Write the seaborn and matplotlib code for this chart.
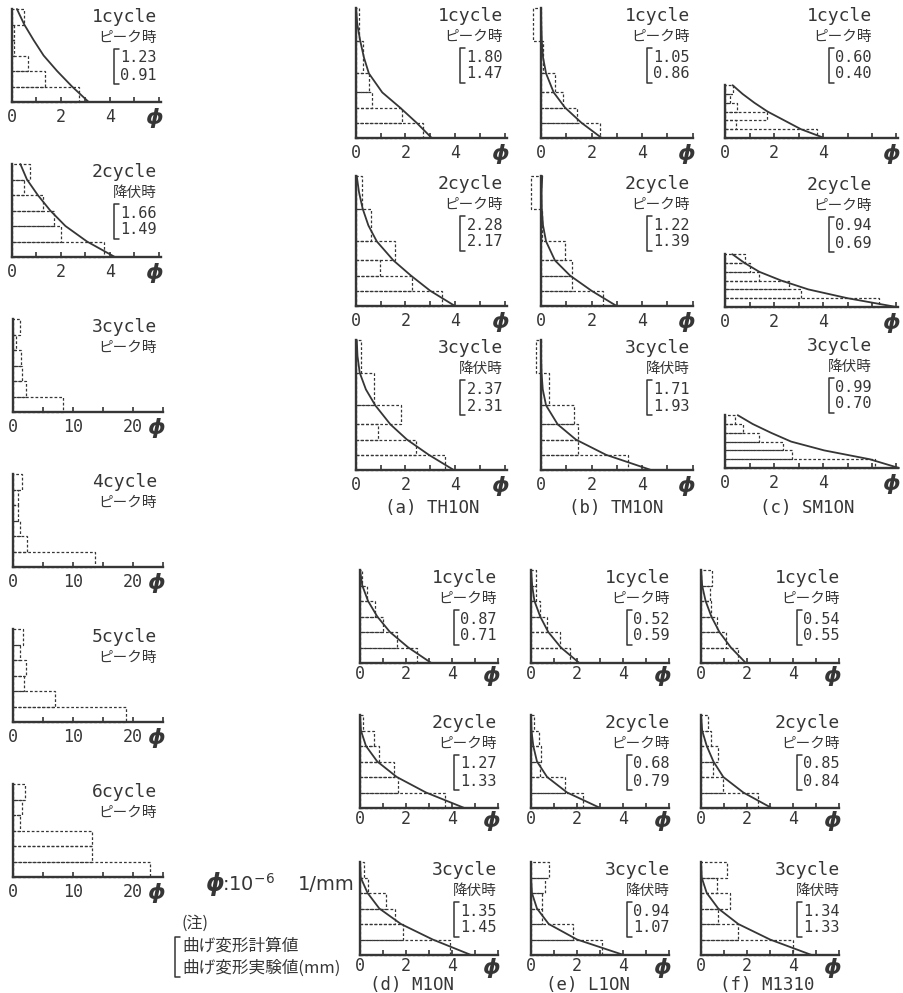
import numpy as np
import matplotlib
matplotlib.use('Agg')
import matplotlib.pyplot as plt
import seaborn as sns

W, H = 904, 993

# ---------------- data ----------------
left_cycles = ['1cycle', '2cycle', '3cycle', '4cycle', '5cycle', '6cycle']
left_states = ['ピーク時', '降伏時', 'ピーク時', 'ピーク時', 'ピーク時', 'ピーク時']
left_values = [('1.23', '0.91'), ('1.66', '1.49'), None, None, None, None]
left_bars = [
    [2.75, 1.36, 0.64, 0.10, 0.10, 0.48],
    [3.74, 2.01, 1.70, 1.27, 0.50, 0.72],
    [8.4, 2.2, 1.55, 1.4, 0.5, 1.2],
    [13.7, 2.3, 1.2, 0.9, 0.9, 1.5],
    [18.9, 7.0, 1.8, 2.1, 1.1, 1.7],
    [22.8, 13.2, 13.2, 1.2, 1.5, 2.0],
]
left_curves = [
    [3.13, 2.45, 1.84, 1.29, 0.88, 0.50, 0.20],
    [4.20, 3.06, 2.18, 1.56, 1.05, 0.61, 0.34],
    None, None, None, None,
]

grid_cycles = ['1cycle', '2cycle', '3cycle']
grid_states = ['ピーク時', 'ピーク時', '降伏時']
specimens = ['(a) TH1ON', '(b) TM1ON', '(c) SM1ON', '(d) M1ON', '(e) L1ON', '(f) M1310']

a_values = [('1.80', '1.47'), ('2.28', '2.17'), ('2.37', '2.31')]
b_values = [('1.05', '0.86'), ('1.22', '1.39'), ('1.71', '1.93')]
c_values = [('0.60', '0.40'), ('0.94', '0.69'), ('0.99', '0.70')]
d_values = [('0.87', '0.71'), ('1.27', '1.33'), ('1.35', '1.45')]
e_values = [('0.52', '0.59'), ('0.68', '0.79'), ('0.94', '1.07')]
f_values = [('0.54', '0.55'), ('0.85', '0.84'), ('1.34', '1.33')]

a_bars = [[2.72, 1.85, 0.66, 0.54, 0.27, 0.13],
          [3.46, 2.25, 0.97, 1.58, 0.60, 0.23],
          [3.58, 2.42, 0.89, 1.82, 0.74, 0.22]]
b_bars = [[2.33, 1.42, 0.87, 0.55, 0.08, -0.30],
          [2.46, 1.24, 1.24, 0.95, 0.05, -0.41],
          [3.43, 1.45, 1.45, 1.32, 0.33, -0.20]]
c_bars = [[3.75, 0.45, 1.70, 0.49, 0.22, 0.34],
          [6.30, 3.10, 2.60, 1.40, 1.00, 0.80],
          [6.14, 2.73, 2.35, 1.40, 0.72, 0.40]]
d_bars = [[2.50, 1.60, 1.00, 0.65, 0.30, 0.10],
          [3.71, 1.64, 1.49, 0.81, 0.59, 0.14],
          [3.93, 1.86, 1.54, 1.13, 0.33, 0.19]]
e_bars = [[1.70, 1.26, 0.70, 0.40, 0.20, 0.20],
          [2.26, 1.46, 0.41, 0.45, 0.33, 0.14],
          [3.09, 1.83, 0.48, 0.48, 0.62, 0.80]]
f_bars = [[1.60, 1.10, 0.70, 0.45, 0.40, 0.50],
          [2.46, 0.94, 0.51, 0.75, 0.42, 0.32],
          [3.99, 1.59, 0.75, 1.26, 0.68, 1.12]]

# calculated curves, x read at the heights in curve_h_* below
a_curves = [[3.06, 2.45, 1.78, 1.06, 0.52, 0.32, 0.17, 0.05, 0.00],
            [4.00, 3.00, 2.22, 1.51, 0.84, 0.50, 0.27, 0.12, 0.03],
            [3.95, 2.94, 2.06, 1.39, 0.78, 0.40, 0.15, 0.06, 0.03]]
b_curves = [[2.40, 1.60, 0.95, 0.50, 0.20, 0.08, 0.03, 0.01, 0.00],
            [2.99, 2.00, 1.15, 0.55, 0.20, 0.08, 0.03, 0.02, 0.05],
            [4.35, 2.57, 1.38, 0.66, 0.20, 0.07, 0.02, 0.00, 0.00]]
c_curves = [[4.05, 3.10, 2.42, 1.74, 1.20, 0.72, 0.31],
            [7.00, 5.00, 3.40, 2.30, 1.40, 0.80, 0.30],
            [7.10, 5.90, 4.05, 2.70, 1.88, 1.13, 0.52]]
d_curves = [[3.10, 2.10, 1.30, 0.75, 0.35, 0.10, 0.00],
            [4.54, 2.87, 1.60, 0.75, 0.26, 0.04, 0.00],
            [4.83, 3.16, 1.78, 0.84, 0.33, 0.03, 0.00]]
e_curves = [[2.10, 1.30, 0.75, 0.40, 0.15, 0.05, 0.00],
            [3.01, 1.57, 0.70, 0.26, 0.10, 0.02, 0.00],
            [4.03, 2.00, 0.77, 0.26, 0.04, 0.00, 0.00]]
f_curves = [[1.95, 1.30, 0.80, 0.45, 0.20, 0.05, 0.00],
            [3.07, 1.84, 0.97, 0.54, 0.25, 0.05, 0.00],
            [4.81, 3.00, 1.62, 0.75, 0.25, 0.03, 0.00]]

# section boundaries along the member height
edges_even = [0, 1, 2, 3, 4, 5, 6]
edges_ab = [0, 1, 2, 3, 4.25, 6.4, 8.55]
curve_h_even = [0, 1, 2, 3, 4, 5, 6]
curve_h_ab = [0, 1, 2, 3, 4.25, 5.3, 6.4, 7.5, 8.55]

# ---------------- style ----------------
sns.set_style('white')
plt.rcParams['font.family'] = ['DejaVu Sans Mono', 'Noto Sans CJK JP']
plt.rcParams['mathtext.fontset'] = 'dejavusans'
INK = '#363636'
MONO = ['DejaVu Sans Mono', 'Noto Sans CJK JP']
CJK = ['Noto Sans CJK JP', 'DejaVu Sans']

fig = plt.figure(figsize=(W / 100, H / 100), dpi=100)
fig.patch.set_facecolor('white')


def fx(x):
    return x / W


def fy(y):
    return 1 - y / H


def fline(xs, ys, lw=1.1):
    fig.add_artist(plt.Line2D([fx(v) for v in xs], [fy(v) for v in ys],
                              transform=fig.transFigure, color=INK, lw=lw))


def panel(x0, base, scale, xmax, edges, hunit, widths, curve, curve_h, step,
          labels, pad=4, phi_dy=16):
    height = edges[-1] * hunit
    ax = fig.add_axes([fx(x0), fy(base), scale * xmax / W, height / H])
    ax.set_xlim(0, xmax)
    ax.set_ylim(0, edges[-1])
    ax.barh(edges[:-1], widths, height=np.diff(edges), left=0, align='edge',
            fill=False, edgecolor=INK, linestyle=(0, (2.2, 1.6)),
            linewidth=0.9, clip_on=False)
    if curve is not None:
        sns.lineplot(x=curve, y=curve_h, sort=False, estimator=None, color=INK,
                     linewidth=1.3, ax=ax, clip_on=False)
    for s in ['top', 'right']:
        ax.spines[s].set_visible(False)
    for s in ['left', 'bottom']:
        ax.spines[s].set_linewidth(1.7)
        ax.spines[s].set_color(INK)
    ax.set_yticks([])
    ax.set_xticks(labels)
    ax.set_xticklabels([str(v) for v in labels], fontsize=12, color=INK)
    ax.set_xticks(np.arange(0, xmax + 1e-6, step), minor=True)
    ax.tick_params(axis='x', which='both', direction='in', length=3.5,
                   width=1.2, color=INK, pad=pad, bottom=True)
    ax.set_xlabel('')
    ax.set_ylabel('')
    fig.text(fx(x0 + scale * xmax - 7), fy(base + phi_dy), 'ϕ', fontsize=16,
             fontweight='bold', style='italic', family='DejaVu Sans',
             ha='center', va='center', color=INK)
    return ax


def labels_block(right, top, cycle, state, vals):
    fig.text(fx(right), fy(top + 8), cycle, ha='right', va='center',
             fontsize=13, family=MONO, color=INK)
    fig.text(fx(right), fy(top + 29), state, ha='right', va='center',
             fontsize=10.5, family=CJK, color=INK)
    if vals is not None:
        fig.text(fx(right), fy(top + 49), vals[0], ha='right', va='center',
                 fontsize=11, family=MONO, color=INK)
        fig.text(fx(right), fy(top + 66), vals[1], ha='right', va='center',
                 fontsize=11, family=MONO, color=INK)
        bx = right - 43
        fline([bx + 5, bx, bx, bx + 5], [top + 40, top + 40, top + 75, top + 75])


# ---------------- left column ----------------
for i in range(6):
    base = 102 + 155 * i
    if i < 2:
        panel(12, base, 24.5, 6.1, edges_even, 15.5, left_bars[i],
              left_curves[i], curve_h_even, 1, [0, 2, 4])
    else:
        panel(13, base, 6.0, 25, edges_even, 15.5, left_bars[i],
              left_curves[i], curve_h_even, 5, [0, 10, 20])
    labels_block(157, base - 93, left_cycles[i], left_states[i], left_values[i])

# ---------------- grids ----------------
grid_layout = [
    # x0, scale, xmax, baselines, edges, curve h, hunit, slot, text right, title x, title y, pad, phi dy
    (356, 24.75, 6.1, [138, 306, 470], edges_ab, curve_h_ab, 15.2, 130, 503, 432, 508, 4, 16),
    (541, 25.3, 6.0, [138, 306, 470], edges_ab, curve_h_ab, 15.2, 130, 690, 616, 508, 4, 16),
    (725, 24.5, 7.06, [138, 307, 468], edges_even, curve_h_even, 8.8, 130, 872, 807, 508, 4, 16),
    (360, 23.0, 6.0, [663, 808, 955], edges_even, curve_h_even, 15.5, 93, 497, 412, 985, 1.5, 13),
    (531, 23.0, 6.0, [663, 808, 955], edges_even, curve_h_even, 15.5, 93, 670, 588, 985, 1.5, 13),
    (701, 23.0, 6.0, [663, 808, 955], edges_even, curve_h_even, 15.5, 93, 840, 767, 985, 1.5, 13),
]
all_bars = [a_bars, b_bars, c_bars, d_bars, e_bars, f_bars]
all_curves = [a_curves, b_curves, c_curves, d_curves, e_curves, f_curves]
all_values = [a_values, b_values, c_values, d_values, e_values, f_values]

for k, lay in enumerate(grid_layout):
    x0, scale, xmax, bases, edges, ch, hunit, slot, tr, tx, ty, pad, pdy = lay
    for r in range(3):
        panel(x0, bases[r], scale, xmax, edges, hunit, all_bars[k][r],
              all_curves[k][r], ch, 1, [0, 2, 4], pad=pad, phi_dy=pdy)
        labels_block(tr, bases[r] - slot, grid_cycles[r], grid_states[r],
                     all_values[k][r])
    fig.text(fx(tx), fy(ty), specimens[k], ha='center', va='center',
             fontsize=12.5, family=MONO, color=INK)

# ---------------- notes ----------------
fig.text(fx(205), fy(884), 'ϕ', fontsize=17, fontweight='bold', style='italic',
         family='DejaVu Sans', ha='left', va='center', color=INK)
fig.text(fx(222), fy(884), r':10$^{-6}$', fontsize=14, family='DejaVu Sans',
         ha='left', va='center', color=INK)
fig.text(fx(298), fy(884), '1/mm', fontsize=14, family='DejaVu Sans',
         ha='left', va='center', color=INK)
fig.text(fx(182), fy(923), '(注)', fontsize=11.5, family=CJK,
         ha='left', va='center', color=INK)
fig.text(fx(182), fy(946), '曲げ変形計算値', fontsize=12, family=CJK,
         ha='left', va='center', color=INK)
fig.text(fx(182), fy(968), '曲げ変形実験値(mm)', fontsize=12, family=CJK,
         ha='left', va='center', color=INK)
fline([180, 175, 175, 180], [937, 937, 977, 977])

fig.savefig('out.png', dpi=100, facecolor='white')
